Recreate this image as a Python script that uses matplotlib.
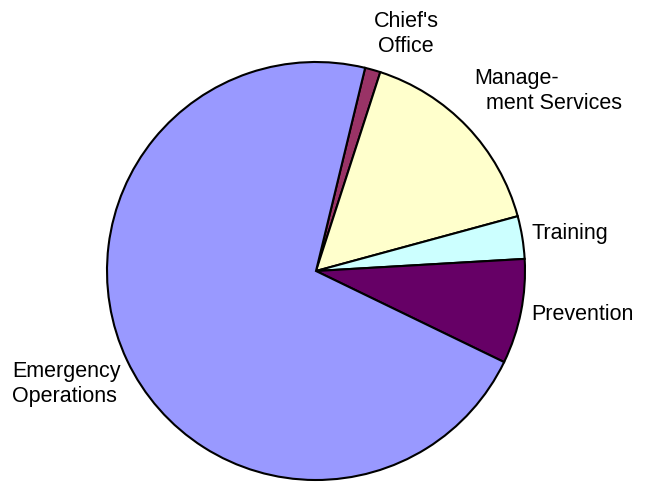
import matplotlib
matplotlib.use("Agg")
import matplotlib.pyplot as plt
import numpy as np

plt.rcParams['font.family'] = ['Liberation Sans', 'DejaVu Sans']

# Budget share by division (percent)
divisions = ["Chief's\nOffice", "Manage-\n  ment Services", "Training", "Prevention", "Emergency\nOperations"]
shares = [1.2, 15.8, 3.3, 8.1, 71.6]
colors = ["#993366", "#FFFFCC", "#CCFFFF", "#660066", "#9999FF"]

W, H, DPI = 650, 489, 100
fig = plt.figure(figsize=(W / DPI, H / DPI), dpi=DPI)
ax = fig.add_axes([0, 0, 1, 1])

wedges, _ = ax.pie(shares, colors=colors, startangle=76.4, counterclock=False,
                   radius=1.0, center=(0, 0),
                   wedgeprops=dict(edgecolor='black', linewidth=1.5))

cx, cy, r = 316, 272, 209  # pie centre and radius in pixels
ax.set_xlim(-cx / r, (W - cx) / r)
ax.set_ylim(-(H - cy) / r, cy / r)
ax.set_aspect('equal')
ax.axis('off')

# Label anchors in pixels from the top-left corner, with alignment
anchors = [
    (406, 34, 'center'),
    (474, 91, 'left'),
    (531, 234, 'left'),
    (531, 314, 'left'),
    (12, 384, 'left'),
]
for label, (px, py, ha) in zip(divisions, anchors):
    ax.text((px - cx) / r, (cy - py) / r, label, ha=ha, va='center',
            fontsize=15.5, linespacing=1.2)

fig.savefig("out.png", dpi=DPI)
